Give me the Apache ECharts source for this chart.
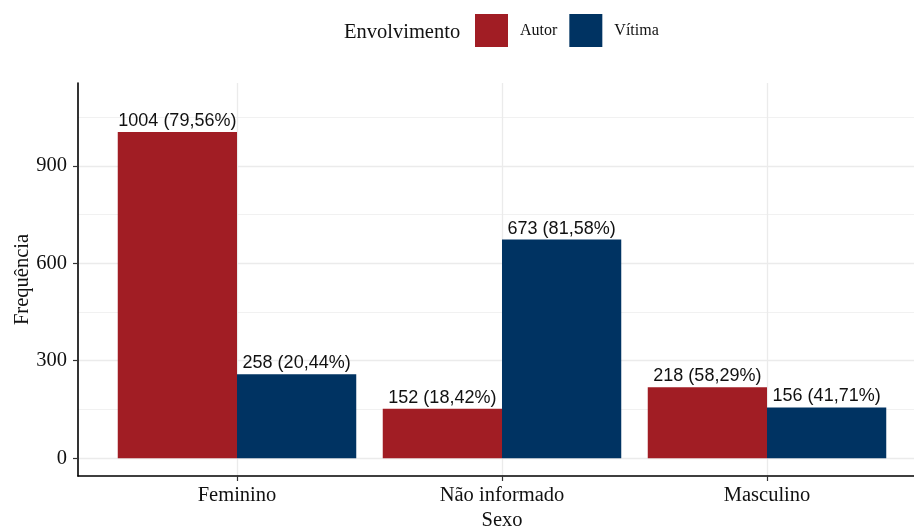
<!DOCTYPE html>
<html lang="pt">
<head>
    <meta charset="UTF-8">
    <title>Envolvimento por sexo</title>
    <script src="https://cdn.jsdelivr.net/npm/echarts@6/dist/echarts.min.js"></script>
    <style>
        * {
            margin: 0;
            padding: 0;
        }
        #main {
            width: 914px;
            height: 528px;
            background: #fff;
        }
    </style>
</head>
<body>
<div id="main"></div>
<script>
    // dados
    var sexo = ['Feminino', 'Não informado', 'Masculino'];
    var autor = [1004, 152, 218];
    var vitima = [258, 673, 156];
    var yTicks = [0, 300, 600, 900];
    var yMinor = [150, 450, 750, 1050];

    var serif = 'Liberation Serif, Times New Roman, serif';
    var sans = 'Liberation Sans, Arial, sans-serif';

    function rotulo(p) {
        var i = p.value[0] - 1;
        var total = autor[i] + vitima[i];
        var pct = (p.value[1] / total * 100).toFixed(2).replace('.', ',');
        return p.value[1] + ' (' + pct + '%)';
    }

    var chart = echarts.init(document.getElementById('main'));

    var option = {
        animation: false,
        title: {
            text: 'Envolvimento',
            left: 344,
            top: 22,
            padding: 0,
            textStyle: {
                fontFamily: serif,
                fontSize: 20.5,
                fontWeight: 'normal',
                color: '#111'
            }
        },
        legend: {
            left: 475,
            top: 14,
            padding: 0,
            itemWidth: 33,
            itemHeight: 33,
            itemGap: 12,
            icon: 'rect',
            data: ['Autor', 'Vítima'],
            textStyle: {
                fontFamily: serif,
                fontSize: 16,
                color: '#111',
                padding: [4, 0, 0, 7]
            }
        },
        grid: {
            left: 78,
            right: -12,
            top: 83,
            bottom: 52,
            outerBoundsMode: 'none'
        },
        xAxis: {
            type: 'value',
            min: 0.4,
            max: 3.6,
            name: 'Sexo',
            nameLocation: 'middle',
            nameGap: 34,
            nameMoveOverlap: false,
            nameTextStyle: {
                fontFamily: serif,
                fontSize: 20.5,
                color: '#111'
            },
            axisLine: {
                onZero: false,
                lineStyle: { color: '#000', width: 1.6 }
            },
            axisTick: {
                customValues: [1, 2, 3],
                length: 5,
                lineStyle: { color: '#333', width: 1.2 }
            },
            axisLabel: {
                customValues: [1, 2, 3],
                margin: 9,
                fontFamily: serif,
                fontSize: 20.5,
                color: '#111',
                formatter: function (v) {
                    return sexo[Math.round(v) - 1];
                }
            },
            splitLine: {
                show: true,
                lineStyle: { color: '#EBEBEB', width: 1.3 }
            }
        },
        yAxis: [
            {
                type: 'value',
                min: -55,
                max: 1155,
                name: 'Frequência',
                nameLocation: 'middle',
                nameGap: 45,
                nameMoveOverlap: false,
                nameTextStyle: {
                    fontFamily: serif,
                    fontSize: 20.5,
                    color: '#111'
                },
                axisLine: {
                    show: true,
                    onZero: false,
                    lineStyle: { color: '#000', width: 1.6 }
                },
                axisTick: {
                    show: true,
                    customValues: yTicks,
                    length: 5,
                    lineStyle: { color: '#333', width: 1.2 }
                },
                axisLabel: {
                    customValues: yTicks,
                    margin: 11,
                    fontFamily: serif,
                    fontSize: 20.5,
                    color: '#111'
                },
                splitLine: {
                    show: true,
                    lineStyle: { color: '#EBEBEB', width: 1.3 }
                }
            },
            {
                type: 'value',
                min: -55,
                max: 1155,
                axisLine: { show: false },
                axisTick: { show: false, customValues: yMinor },
                axisLabel: { show: false, customValues: yMinor },
                splitLine: {
                    show: true,
                    lineStyle: { color: '#F1F1F1', width: 1.2 }
                }
            }
        ],
        series: [
            {
                name: 'Autor',
                type: 'bar',
                barCategoryGap: '10%',
                barGap: '0%',
                itemStyle: { color: '#A11D24' },
                label: {
                    show: true,
                    position: 'top',
                    distance: 2,
                    fontFamily: sans,
                    fontSize: 18,
                    color: '#111',
                    formatter: rotulo
                },
                data: autor.map(function (v, i) { return [i + 1, v]; })
            },
            {
                name: 'Vítima',
                type: 'bar',
                barCategoryGap: '10%',
                barGap: '0%',
                itemStyle: { color: '#003362' },
                label: {
                    show: true,
                    position: 'top',
                    distance: 2,
                    fontFamily: sans,
                    fontSize: 18,
                    color: '#111',
                    formatter: rotulo
                },
                data: vitima.map(function (v, i) { return [i + 1, v]; })
            }
        ]
    };

    chart.setOption(option);
</script>
</body>
</html>
